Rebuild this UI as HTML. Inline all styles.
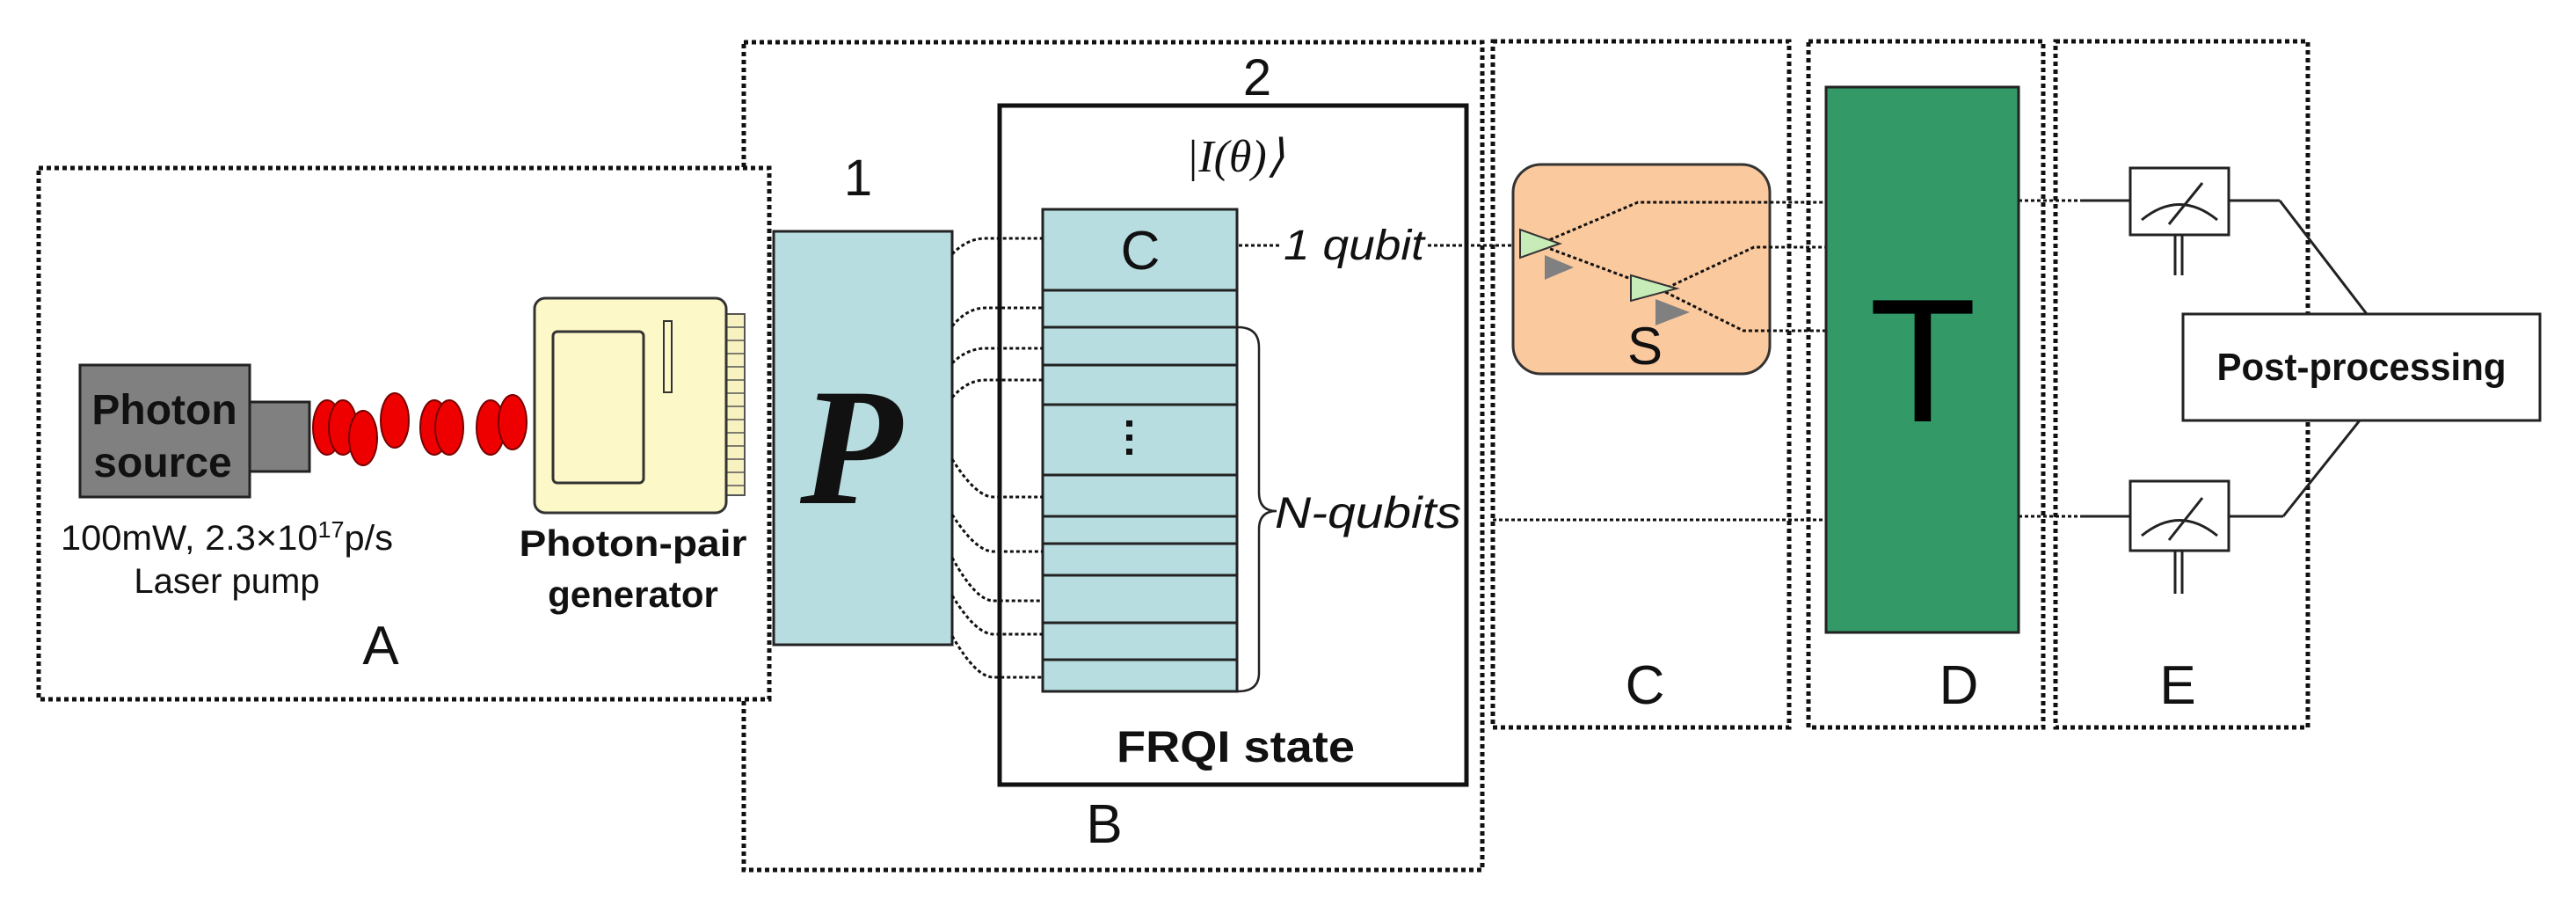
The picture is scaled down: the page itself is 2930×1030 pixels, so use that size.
<!DOCTYPE html>
<html><head><meta charset="utf-8"><style>html,body{margin:0;padding:0;background:#fff}svg{display:block}text{font-family:"Liberation Sans",sans-serif}</style></head><body>
<svg width="2930" height="1030" viewBox="0 0 2930 1030" xmlns="http://www.w3.org/2000/svg">
<g fill="none" stroke="#111" stroke-width="5" stroke-dasharray="5 4">
<rect x="846" y="48" width="840" height="941"/>
<rect x="44" y="191" width="831" height="604" fill="#fff"/>
<rect x="1698" y="47" width="337" height="780"/>
<rect x="2057" y="47" width="267" height="780"/>
<rect x="2338" y="47" width="287" height="780"/>
</g>
<rect x="91" y="415" width="193" height="150" fill="#808080" stroke="#222" stroke-width="3"/>
<rect x="284" y="457" width="68" height="79" fill="#808080" stroke="#222" stroke-width="3"/>
<text x="187" y="482" font-size="48" font-weight="bold" text-anchor="middle" fill="#111">Photon</text>
<text x="185" y="542" font-size="48" font-weight="bold" text-anchor="middle" fill="#111">source</text>
<g fill="#e00" stroke="#700" stroke-width="2">
<ellipse cx="372" cy="486" rx="16" ry="31"/><ellipse cx="390" cy="486" rx="16" ry="31"/><ellipse cx="413" cy="498" rx="16" ry="31"/><ellipse cx="449" cy="478" rx="16" ry="31"/><ellipse cx="494" cy="486" rx="16" ry="31"/><ellipse cx="511" cy="486" rx="16" ry="31"/><ellipse cx="558" cy="486" rx="16" ry="31"/><ellipse cx="583" cy="480" rx="16" ry="31"/>
</g>
<rect x="826" y="357" width="21" height="206" fill="#f8f2c0" stroke="#555" stroke-width="2"/>
<g stroke="#555" stroke-width="1.5">
<line x1="826" y1="372" x2="847" y2="372"/><line x1="826" y1="387" x2="847" y2="387"/><line x1="826" y1="402" x2="847" y2="402"/><line x1="826" y1="417" x2="847" y2="417"/><line x1="826" y1="432" x2="847" y2="432"/><line x1="826" y1="447" x2="847" y2="447"/><line x1="826" y1="462" x2="847" y2="462"/><line x1="826" y1="477" x2="847" y2="477"/><line x1="826" y1="492" x2="847" y2="492"/><line x1="826" y1="507" x2="847" y2="507"/><line x1="826" y1="522" x2="847" y2="522"/><line x1="826" y1="537" x2="847" y2="537"/><line x1="826" y1="552" x2="847" y2="552"/>
</g>
<rect x="608" y="339" width="218" height="244" rx="12" fill="#fdf8c8" stroke="#333" stroke-width="3"/>
<rect x="629" y="377" width="103" height="172" rx="5" fill="#fdf8c8" stroke="#333" stroke-width="3"/>
<rect x="755" y="365" width="9" height="81" fill="#fdf8c8" stroke="#333" stroke-width="2"/>
<text x="258" y="625" font-size="40" text-anchor="middle" fill="#111" textLength="378" lengthAdjust="spacingAndGlyphs">100mW, 2.3×10<tspan font-size="26" dy="-14">17</tspan><tspan dy="14">p/s</tspan></text>
<text x="258" y="674" font-size="40" text-anchor="middle" fill="#111">Laser pump</text>
<text x="720" y="632" font-size="42" font-weight="bold" text-anchor="middle" fill="#111" textLength="259" lengthAdjust="spacingAndGlyphs">Photon-pair</text>
<text x="720" y="690" font-size="42" font-weight="bold" text-anchor="middle" fill="#111">generator</text>
<text x="433" y="755" font-size="62" text-anchor="middle" fill="#111">A</text>
<rect x="1137" y="120" width="531" height="772" fill="none" stroke="#111" stroke-width="5"/>
<text x="1430" y="108" font-size="58" text-anchor="middle" fill="#111">2</text>
<text x="976" y="222" font-size="58" text-anchor="middle" fill="#111">1</text>
<rect x="880" y="263" width="203" height="470" fill="#b8dde0" stroke="#222" stroke-width="3"/>
<text x="968" y="572" font-size="190" text-anchor="middle" fill="#111" style="font-family:'Liberation Serif',serif;font-style:italic;font-weight:bold">P</text>
<text x="1405" y="195" font-size="52" text-anchor="middle" fill="#111" style="font-family:'Liberation Serif',serif;font-style:italic">|I(θ)⟩</text>
<rect x="1186" y="238" width="221" height="548" fill="#b8dde0" stroke="#222" stroke-width="3"/>
<g stroke="#222" stroke-width="3">
<line x1="1186" y1="330" x2="1407" y2="330"/><line x1="1186" y1="372" x2="1407" y2="372"/><line x1="1186" y1="415" x2="1407" y2="415"/><line x1="1186" y1="460" x2="1407" y2="460"/><line x1="1186" y1="540" x2="1407" y2="540"/><line x1="1186" y1="587" x2="1407" y2="587"/><line x1="1186" y1="618" x2="1407" y2="618"/><line x1="1186" y1="654" x2="1407" y2="654"/><line x1="1186" y1="708" x2="1407" y2="708"/><line x1="1186" y1="750" x2="1407" y2="750"/>
</g>
<text x="1297" y="306" font-size="62" text-anchor="middle" fill="#111">C</text>
<g fill="#111"><rect x="1281" y="478" width="7" height="7"/><rect x="1281" y="494" width="7" height="7"/><rect x="1281" y="510" width="7" height="7"/></g>
<path d="M1408 372 Q1432 372 1432 395 L1432 560 Q1432 581 1452 581 Q1432 581 1432 602 L1432 765 Q1432 786 1408 786" fill="none" stroke="#222" stroke-width="2.5"/>
<text x="1450" y="600" font-size="50" font-style="italic" fill="#111" textLength="212" lengthAdjust="spacingAndGlyphs">N-qubits</text>
<text x="1460" y="295" font-size="48" font-style="italic" fill="#111" textLength="160" lengthAdjust="spacingAndGlyphs">1 qubit</text>
<text x="1270" y="866" font-size="50" font-weight="bold" fill="#111" textLength="271" lengthAdjust="spacingAndGlyphs">FRQI state</text>
<text x="1256" y="958" font-size="62" text-anchor="middle" fill="#111">B</text>
<g fill="none" stroke="#111" stroke-width="3" stroke-dasharray="4 3">
<path d="M1083 289 Q1100 271 1121 271 L1186 271"/>
<path d="M1083 371 Q1100 350 1121 350 L1186 350"/>
<path d="M1083 413 Q1100 396 1121 396 L1186 396"/>
<path d="M1083 452 Q1100 432 1121 432 L1186 432"/>
<path d="M1083 522 Q1110 565 1130 565 L1186 565"/>
<path d="M1083 585 Q1110 627 1130 627 L1186 627"/>
<path d="M1083 634 Q1110 683 1130 683 L1186 683"/>
<path d="M1083 677 Q1110 721 1130 721 L1186 721"/>
<path d="M1083 723 Q1110 770 1130 770 L1186 770"/>
<line x1="1409" y1="279" x2="1456" y2="279"/>
<line x1="1624" y1="279" x2="1740" y2="279"/>
</g>
<rect x="1721" y="187" width="292" height="238" rx="32" fill="#fbc99e" stroke="#333" stroke-width="3"/>
<g fill="none" stroke="#111" stroke-width="3" stroke-dasharray="4 3">
<path d="M1750 278 L1863 230 L2077 230"/>
<path d="M1750 278 L1890 330 L1983 376 L2077 376"/>
<path d="M1890 330 L1995 281 L2077 281"/>
<line x1="1698" y1="591" x2="2077" y2="591"/>
<line x1="2296" y1="228" x2="2366" y2="228"/>
<line x1="2296" y1="587" x2="2366" y2="587"/>
</g>
<polygon points="1729,261 1729,293 1774,277" fill="#c8ecb8" stroke="#333" stroke-width="2"/>
<polygon points="1757,290 1757,318 1790,304" fill="#808080"/>
<polygon points="1855,313 1855,342 1907,328" fill="#c8ecb8" stroke="#333" stroke-width="2"/>
<polygon points="1883,340 1883,370 1922,355" fill="#808080"/>
<text x="1871" y="414" font-size="60" text-anchor="middle" fill="#111">S</text>
<text x="1871" y="800" font-size="62" text-anchor="middle" fill="#111">C</text>
<rect x="2077" y="99" width="219" height="620" fill="#339966" stroke="#222" stroke-width="3"/>
<text x="2187" y="479" font-size="200" text-anchor="middle" fill="#000">T</text>
<text x="2228" y="800" font-size="62" text-anchor="middle" fill="#111">D</text>
<g stroke="#222" stroke-width="3" fill="none">
<line x1="2366" y1="228" x2="2423" y2="228"/><line x1="2535" y1="228" x2="2593" y2="228"/><line x1="2593" y1="228" x2="2692" y2="357"/>
<line x1="2366" y1="587" x2="2423" y2="587"/><line x1="2535" y1="587" x2="2597" y2="587"/><line x1="2597" y1="587" x2="2684" y2="478"/>
<rect x="2423" y="191" width="112" height="76" fill="#fff"/>
<rect x="2423" y="547" width="112" height="79" fill="#fff"/>
<path d="M2436 250 Q2479 215 2522 250"/><line x1="2467" y1="255" x2="2505" y2="208"/>
<path d="M2436 609 Q2479 574 2522 609"/><line x1="2467" y1="614" x2="2505" y2="566"/>
<line x1="2474" y1="267" x2="2474" y2="313"/><line x1="2482" y1="267" x2="2482" y2="313"/>
<line x1="2474" y1="626" x2="2474" y2="675"/><line x1="2482" y1="626" x2="2482" y2="675"/>
<rect x="2483" y="357" width="406" height="121" fill="#fff"/>
</g>
<text x="2686" y="432" font-size="44" font-weight="bold" text-anchor="middle" fill="#111" textLength="329" lengthAdjust="spacingAndGlyphs">Post-processing</text>
<text x="2477" y="800" font-size="62" text-anchor="middle" fill="#111">E</text>
</svg>
</body></html>
